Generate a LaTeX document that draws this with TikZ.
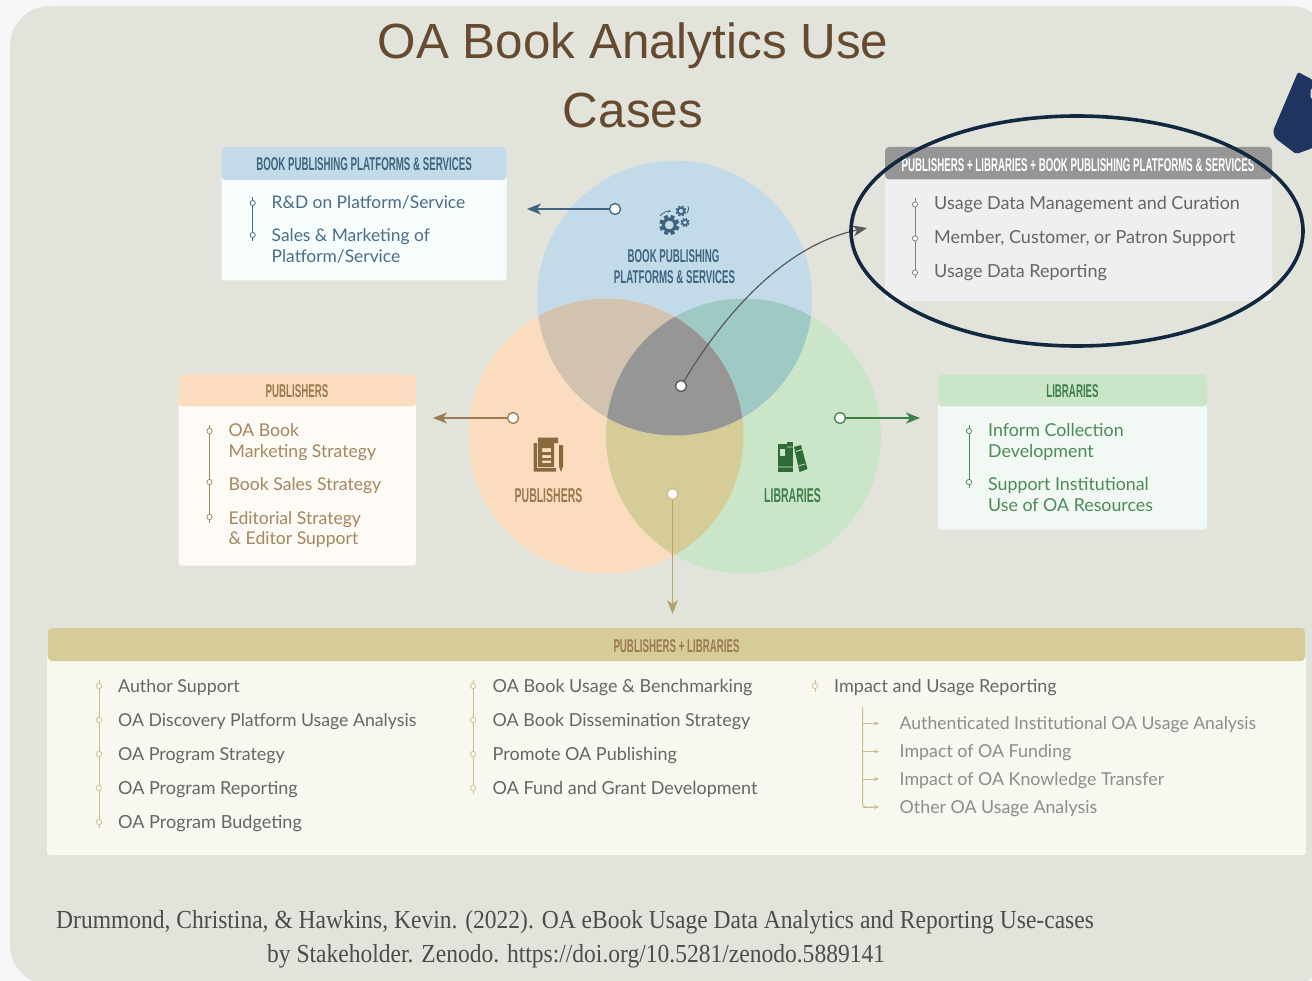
\documentclass[tikz,border=0pt]{standalone}
\usepackage{fontspec}
\usetikzlibrary{arrows.meta}
\setmainfont{Lato}
\newfontfamily\headfont[FakeStretch=0.525]{Liberation Sans Bold}
\newfontfamily\titlefont{Liberation Sans}
\newfontfamily\citefont[FakeStretch=0.905]{Liberation Serif}
\definecolor{pagec}{HTML}{F7F7F7}
\definecolor{bgc}{HTML}{E2E3DB}
\definecolor{blueC}{HTML}{C3DBE9}
\definecolor{orangeC}{HTML}{FCDCBF}
\definecolor{greenC}{HTML}{CBE5C9}
\definecolor{boC}{HTML}{D2C2B0}
\definecolor{bgC}{HTML}{9FC9C5}
\definecolor{ogC}{HTML}{D6CC98}
\definecolor{allC}{HTML}{969696}
\definecolor{blueT}{HTML}{3F6480}
\definecolor{brownT}{HTML}{9A7A50}
\definecolor{greenT}{HTML}{3F7F49}
\definecolor{blueB}{HTML}{4A6E88}
\definecolor{brownB}{HTML}{A4875F}
\definecolor{greenB}{HTML}{4C8A57}
\definecolor{grayT}{HTML}{666666}
\definecolor{lightT}{HTML}{8C8C8C}
\definecolor{tanL}{HTML}{C9BE8C}
\definecolor{tanA}{HTML}{B5A56C}
\definecolor{navy}{HTML}{12283F}
\definecolor{blob}{HTML}{1F3560}
\definecolor{bodyB}{HTML}{F7FCFD}
\definecolor{bodyP}{HTML}{FEFAF6}
\definecolor{bodyL}{HTML}{F2F9F4}
\definecolor{bodyC}{HTML}{EFEEF1}
\definecolor{bodyO}{HTML}{F8F8F1}
\definecolor{iconB}{HTML}{8B683D}
\definecolor{iconG}{HTML}{2F6B36}
\tikzset{
 x=1pt,y=-1pt,
 txt/.style={anchor=base west,inner sep=0pt,font=\fontsize{18}{18}\selectfont,text=#1},
 fs/.style={font=\fontsize{#1}{#1}\selectfont},
 hd/.style={anchor=base,inner sep=0pt,font=\headfont\fontsize{18.5}{18.5}\selectfont,text=#1},
 bighd/.style={anchor=base,inner sep=0pt,font=\headfont\fontsize{20}{20}\selectfont,text=#1},
 ttl/.style={anchor=base,inner sep=0pt,font=\titlefont\fontsize{49.4}{49.4}\selectfont,text={rgb,255:red,102;green,74;blue,48}},
 cite/.style={anchor=base west,inner sep=0pt,font=\citefont\fontsize{26}{26}\selectfont,text=black!70},
 dot/.style={circle,draw=#1,fill=white,line width=1.3pt,minimum size=11pt,inner sep=0pt},
 arrowline/.style={draw=#1,line width=1.3pt,-{Stealth[length=14pt,width=11pt,inset=4pt]}},
 bar/.style={line width=1pt,draw=#1},
 tick/.style={line width=.8pt,draw=#1},
}
% marker on a list rail: x, y, colour, body colour
\newcommand{\railmark}[4]{%
  \draw[tick=#3] (#1,#2-6) -- (#1,#2+6);
  \draw[tick=#3,fill=#4] (#1,#2) circle[radius=2.6];}
% header box: x1,y1,x2,yh,y2,header colour,body colour
\newcommand{\panel}[7]{%
  \fill[#7,rounded corners=3pt] (#1,#3-5) rectangle (#4,#5);
  \fill[#6,rounded corners=4pt] (#1,#2) rectangle (#4,#3);}
% gear: cx,cy,r,colour
\newcommand{\geargl}[4]{%
  \foreach \a in {0,45,...,315}{\draw[#4,line width=#3*0.42pt] (#1,#2)++(\a+22:#3*0.7) -- ++(\a+22:#3*0.36);}
  \draw[#4,line width=#3*0.32pt] (#1,#2) circle[radius=#3*0.62];}
\begin{document}
\begin{tikzpicture}
\useasboundingbox (0,0) rectangle (1312,981);
\fill[pagec] (0,0) rectangle (1312,981);
\fill[bgc,rounded corners=40pt] (10,6) rectangle (1330,985);

% navy shape at right edge
\fill[blob,rounded corners=2pt] (1298,72) -- (1313,80) -- (1313,148) -- (1296,154) -- (1275,138) -- (1273,131) -- cycle;
\fill[bgc] (1312,88) -- (1310.5,91) -- (1310.5,97) -- (1312,99) -- cycle;

% title
\node[ttl] (title1) at (633,59) {OA Book Analytics Use};
\node[ttl] (title2) at (633,128) {Cases};

% Venn
\def\cB{(674.7,298) circle[radius=137.5]}
\def\cO{(606,436) circle[radius=137.5]}
\def\cG{(743.5,436) circle[radius=137.5]}
\fill[blueC] \cB;
\fill[orangeC] \cO;
\fill[greenC] \cG;
\begin{scope}\clip \cB; \fill[boC] \cO; \fill[bgC] \cG; \end{scope}
\begin{scope}\clip \cO; \fill[ogC] \cG; \end{scope}
\begin{scope}\clip \cB; \clip \cO; \fill[allC] \cG; \end{scope}

% panels
\panel{221.5}{147}{180}{506.5}{280.5}{blueC}{bodyB}
\panel{178.5}{374.5}{406.5}{416}{565.5}{orangeC}{bodyP}
\panel{938}{374.5}{406.5}{1207}{529.5}{greenC}{bodyL}
\panel{885}{147}{179.5}{1272}{301}{allC}{bodyC}
\fill[bodyO,rounded corners=3pt] (47,655) rectangle (1306,855);
\fill[ogC,rounded corners=4pt] (48,628) rectangle (1305,661);

% panel headers
\node[hd=blueT] (h1) at (364,171) {BOOK PUBLISHING PLATFORMS \& SERVICES};
\node[hd=brownT] (h2) at (297,398) {PUBLISHERS};
\node[hd=greenT] (h3) at (1072.5,398) {LIBRARIES};
\node[hd=white] (h4) at (1078,172) {PUBLISHERS + LIBRARIES + BOOK PUBLISHING PLATFORMS \& SERVICES};
\node[hd=brownT] (h5) at (676.5,652) {PUBLISHERS + LIBRARIES};

% circle labels
\node[hd=blueT] (l1a) at (673.5,263) {BOOK PUBLISHING};
\node[hd=blueT] (l1b) at (674.5,284) {PLATFORMS \& SERVICES};
\node[bighd=brownT] (l2) at (548.5,502) {PUBLISHERS};
\node[bighd=greenT] (l3) at (792.5,502) {LIBRARIES};

% gear icon
\geargl{669.3}{225}{9.5}{blueT}
\geargl{681}{211}{5}{blueT}
\geargl{685}{222.5}{4.2}{blueT}
\draw[blueT,line width=.8pt,-{Stealth[length=3pt,width=3pt]}] (660,216) .. controls (663,212) and (667,211) .. (671,211.5);
\draw[blueT,line width=.8pt] (688,206) .. controls (689,208) and (689,211) .. (687,213);

% publishers icon
\fill[iconB] (533.5,443) -- (537,443) -- (537,468) -- (556,468) -- (556,471.5) -- (533.5,471.5) -- cycle;
\fill[iconB,even odd rule] (538,437.5) -- (558,437.5) -- (558,443) -- (554,443) -- (554,467) -- (538,467) -- cycle
 (542,448) rectangle (551,452) (542,455) rectangle (551,458) (542,460.5) rectangle (551,463);
\fill[iconB] (559,445) -- (563,445) -- (563,466.5) -- (561,472) -- (559,466.5) -- cycle;

% books icon
\fill[iconG] (777.5,444) rectangle (787,471.5);
\fill[iconG] (786.5,442) rectangle (793,471.5);
\fill[iconG] (794,447) -- (801,445) -- (807.5,469) -- (799.5,472) -- cycle;
\fill[greenC] (779.5,449) rectangle (785,456);
\draw[greenC,line width=.8pt] (777,467) -- (793,467) (787,447) -- (793,447) (796,451.5) -- (802,449.5) (798.5,466) -- (805,464);

% connectors
\node[dot=blueT] (dB) at (615,209) {};
\coordinate (aB) at (527,209);
\draw[arrowline=blueT] (dB) -- (aB);
\node[dot=brownT] (dP) at (513,418) {};
\coordinate (aP) at (433,418);
\draw[arrowline=brownT] (dP) -- (aP);
\node[dot=greenT] (dL) at (840,418) {};
\coordinate (aL) at (920,418);
\draw[arrowline=greenT] (dL) -- (aL);
\node[dot=tanL] (dO) at (672.5,494) {};
\coordinate (aO) at (672.5,614);
\draw[arrowline=tanA] (dO) -- (aO);
\node[dot=black!65] (dA) at (681,386) {};
\coordinate (aA) at (867,228);
\draw[draw=black!65,line width=1.2pt,-{Stealth[length=14pt,width=11pt,inset=4pt]}] (dA) .. controls (725,313) and (785,245) .. (aA);

% ellipse
\draw[navy,line width=3.6pt] (1077,231) ellipse[x radius=226,y radius=115];

% Book list
\draw[bar=blueB] (252.7,203) -- (252.7,235);
\railmark{252.7}{203}{blueB}{white}\railmark{252.7}{235}{blueB}{white}
\node[txt=blueB,fs=17.4] (b1) at (271.5,209) {R\&D on Platform/Service};
\node[txt=blueB,fs=17.4] (b2) at (271.5,242) {Sales \& Marketing of};
\node[txt=blueB,fs=17.4] (b3) at (271.5,263) {Platform/Service};

% Publishers list
\draw[bar=brownB] (209.5,431) -- (209.5,517);
\railmark{209.5}{431}{brownB}{white}\railmark{209.5}{482}{brownB}{white}\railmark{209.5}{517}{brownB}{white}
\node[txt=brownB,fs=17.6] (p1) at (228.5,436) {OA Book};
\node[txt=brownB,fs=17.6] (p2) at (228.5,457) {Marketing Strategy};
\node[txt=brownB,fs=17.6] (p3) at (228.5,490) {Book Sales Strategy};
\node[txt=brownB,fs=17.6] (p4) at (228.5,524) {Editorial Strategy};
\node[txt=brownB,fs=17.6] (p5) at (228.5,544.5) {\& Editor Support};

% Libraries list
\draw[bar=greenB] (969,431) -- (969,482);
\railmark{969}{431}{greenB}{white}\railmark{969}{482}{greenB}{white}
\node[txt=greenB,fs=17.8] (g1) at (988,436) {Inform Collection};
\node[txt=greenB,fs=17.8] (g2) at (988,457) {Development};
\node[txt=greenB,fs=17.8] (g3) at (988,490) {Support Institutional};
\node[txt=greenB,fs=17.8] (g4) at (988,511) {Use of OA Resources};

% Combined list
\draw[bar=black!50] (915,204.5) -- (915,272.5);
\railmark{915}{204.5}{black!50}{white}\railmark{915}{238.5}{black!50}{white}\railmark{915}{272.5}{black!50}{white}
\node[txt=grayT] (c1) at (934,210) {Usage Data Management and Curation};
\node[txt=grayT] (c2) at (934,244) {Member, Customer, or Patron Support};
\node[txt=grayT] (c3) at (934,278) {Usage Data Reporting};

% bottom col 1
\draw[bar=tanL] (99,686) -- (99,822);
\foreach \y in {686,720,754,788,822}{\railmark{99}{\y}{tanL}{white}}
\node[txt=grayT,fs=17.8] (q1) at (118,692) {Author Support};
\node[txt=grayT,fs=17.7] (q2) at (118,726) {OA Discovery Platform Usage Analysis};
\node[txt=grayT,fs=17.9] (q3) at (118,760) {OA Program Strategy};
\node[txt=grayT,fs=18] (q4) at (118,794) {OA Program Reporting};
\node[txt=grayT,fs=18.1] (q5) at (118,828) {OA Program Budgeting};
% col 2
\draw[bar=tanL] (473,686) -- (473,788);
\foreach \y in {686,720,754,788}{\railmark{473}{\y}{tanL}{white}}
\node[txt=grayT] (r1) at (492.5,692) {OA Book Usage \& Benchmarking};
\node[txt=grayT,fs=17.9] (r2) at (492.5,726) {OA Book Dissemination Strategy};
\node[txt=grayT] (r3) at (492.5,760) {Promote OA Publishing};
\node[txt=grayT] (r4) at (492.5,794) {OA Fund and Grant Development};
% col 3
\railmark{815}{686}{tanL}{white}
\node[txt=grayT] (s0) at (834,692) {Impact and Usage Reporting};
\node[txt=lightT,fs=17.6] (s1) at (899.5,729) {Authenticated Institutional OA Usage Analysis};
\node[txt=lightT,fs=17.8] (s2) at (899.5,757) {Impact of OA Funding};
\node[txt=lightT,fs=17.8] (s3) at (899.5,785) {Impact of OA Knowledge Transfer};
\node[txt=lightT,fs=17.8] (s4) at (899.5,813) {Other OA Usage Analysis};
\draw[bar=tanL,rounded corners=3pt] (862.5,707) -- (862.5,807) -- (874,807);
\foreach \y in {723.5,751.5,779,807}{
  \draw[bar=tanL,-{Stealth[length=5pt,width=4pt]}] (862.5,\y) -- (879,\y);}

% citation
\node[cite] (cit1) at (56,928) {Drummond, Christina, \& Hawkins, Kevin. (2022). OA eBook Usage Data Analytics and Reporting Use-cases};
\node[cite] (cit2) at (267,962) {by Stakeholder. Zenodo. https://doi.org/10.5281/zenodo.5889141};
\end{tikzpicture}
\end{document}
